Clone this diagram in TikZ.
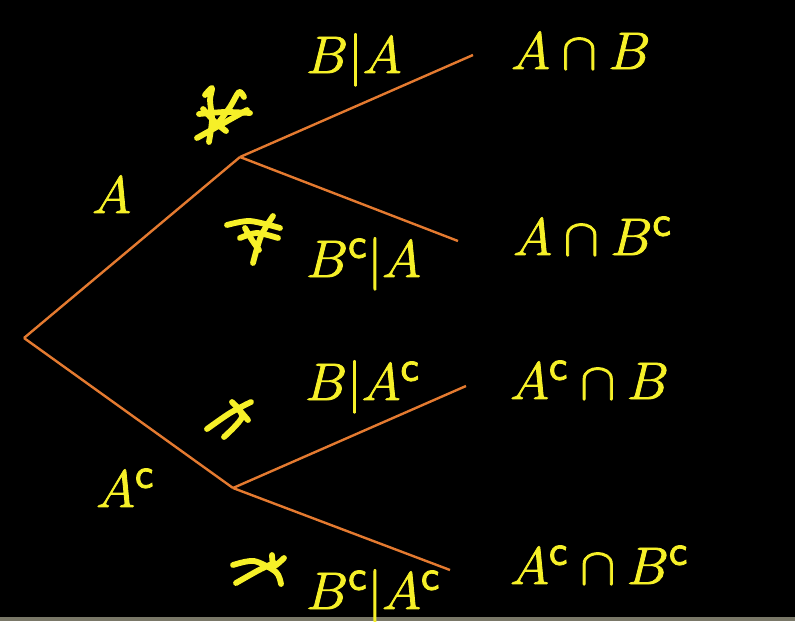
\documentclass[tikz,border=0pt]{standalone}
\usepackage{amssymb}
\usepackage{amsmath}
\usepackage{xcolor}

\definecolor{chalkyellow}{RGB}{246,240,40}
\definecolor{chalkorange}{RGB}{228,122,48}
\definecolor{stripgrey}{RGB}{122,120,104}
\newcommand{\cmpl}{^{\mathsf{c}}}
\newcommand{\heavytext}[1]{\special{pdf:literal 2 Tr 0.4 w}#1\special{pdf:literal 0 Tr}}

\begin{document}
\begin{tikzpicture}[x=0.5pt,y=-0.5pt,line width=1.2pt,
    lbl/.style={text=chalkyellow, anchor=base west, inner sep=0pt, scale=1.06, transform shape, font=\fontsize{24.88}{30}\selectfont},
    scribble/.style={draw=chalkyellow, line width=2.9pt, line cap=round, line join=round},
]
                        \fill[black] (0,0) rectangle (795,621);
                        \fill[stripgrey] (0,617) rectangle (795,621);
                        \useasboundingbox (0,0) rectangle (795,621);

                        % tree junctions and branch ends
                        \coordinate (root) at (24,338);
                        \coordinate (a) at (240,157);
                        \coordinate (ac) at (233,488);
                        \coordinate (ab) at (473,55);
                        \coordinate (abc) at (458,241);
                        \coordinate (acb) at (466,386);
                        \coordinate (acbc) at (450,570);

                        % branch labels
                        \node [lbl](la) at (91,213){\heavytext{$A$}};
                        \node [lbl](lac) at (95,507){\heavytext{$A\cmpl$}};
                        \node [lbl](lba) at (305,73){\heavytext{$B|A$}};
                        \node [lbl](lbca) at (305,277){\heavytext{$B\cmpl|A$}};
                        \node [lbl](lbac) at (304,400){\heavytext{$B|A\cmpl$}};
                        \node [lbl](lbcac) at (305,609){\heavytext{$B\cmpl|A\cmpl$}};

                        % outcomes
                        \node [lbl](oab) at (510,69){\heavytext{$A\cap B$}};
                        \node [lbl](oabc) at (512,255){\heavytext{$A\cap B\cmpl$}};
                        \node [lbl](oacb) at (509,399){\heavytext{$A\cmpl\cap B$}};
                        \node [lbl](oacbc) at (509,584){\heavytext{$A\cmpl\cap B\cmpl$}};

                        \path[draw=chalkorange]
                            (root) edge (a)
                            (root) edge (ac)
                            (a) edge (ab)
                            (a) edge (abc)
                            (ac) edge (acb)
                            (ac) edge (acbc)
                        ;

                        % hand-written marks
                        \draw[scribble] plot[smooth] coordinates {(205,95) (212,88) (210,100) (212,120) (209,142)};
                        \draw[scribble] plot[smooth] coordinates {(244,97) (239,92) (230,107) (216,126)};
                        \draw[scribble] plot[smooth] coordinates {(199,114) (225,112) (250,113)};
                        \draw[scribble] plot[smooth] coordinates {(197,138) (222,124) (247,110)};
                        \draw[scribble] plot[smooth] coordinates {(203,109) (216,123) (226,131)};

                        \draw[scribble] plot[smooth] coordinates {(227,225) (250,221) (280,228)};
                        \draw[scribble] plot[smooth] coordinates {(240,238) (257,233) (278,238)};
                        \draw[scribble] plot[smooth] coordinates {(273,216) (261,236) (253,263)};
                        \draw[scribble] plot[smooth] coordinates {(245,228) (252,240) (259,250)};

                        \draw[scribble] plot[smooth] coordinates {(207,429) (230,413) (251,402)};
                        \draw[scribble] plot[smooth] coordinates {(232,402) (242,417) (224,437)};
                        \draw[scribble] plot[smooth] coordinates {(236,406) (248,420)};

                        \draw[scribble] plot[smooth] coordinates {(233,565) (254,561) (276,572) (281,584)};
                        \draw[scribble] plot[smooth] coordinates {(236,583) (259,570) (274,563)};
                        \draw[scribble] plot[smooth] coordinates {(272,555) (274,566) (284,558)};
                    \end{tikzpicture}
\end{document}
